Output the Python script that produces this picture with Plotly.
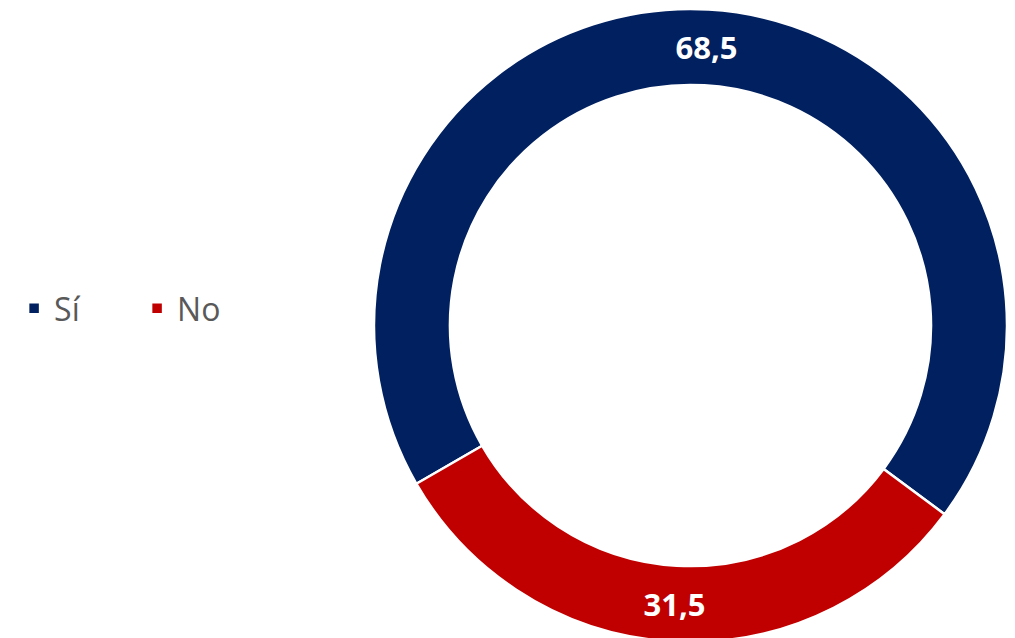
import plotly.graph_objects as go

# survey answer shares (%)
labels = ["Sí", "No"]
values = [68.5, 31.5]
colors = ["#002060", "#C00000"]

fig = go.Figure()
fig.add_trace(go.Pie(
    labels=labels,
    values=values,
    hole=0.76,
    sort=False,
    direction="clockwise",
    rotation=240,
    marker=dict(colors=colors, line=dict(color="white", width=2.5)),
    texttemplate="%{value:.1f}",
    textposition="inside",
    insidetextorientation="auto",
    textfont=dict(family="Open Sans", size=31, color="white", weight="bold"),
    domain=dict(x=[366 / 1015, 999 / 1015], y=[0.0047, 1]),
    hoverinfo="skip",
))

fig.update_layout(
    width=1015, height=638,
    margin=dict(l=0, r=0, t=0, b=0),
    paper_bgcolor="white",
    separators=",.",
    showlegend=True,
    legend=dict(
        orientation="h",
        x=0.006, y=0.529, xanchor="left", yanchor="middle",
        font=dict(family="Open Sans", size=32, color="#595959"),
        entrywidth=78,
        itemwidth=30,
    ),
)

fig.write_html("out.html")
